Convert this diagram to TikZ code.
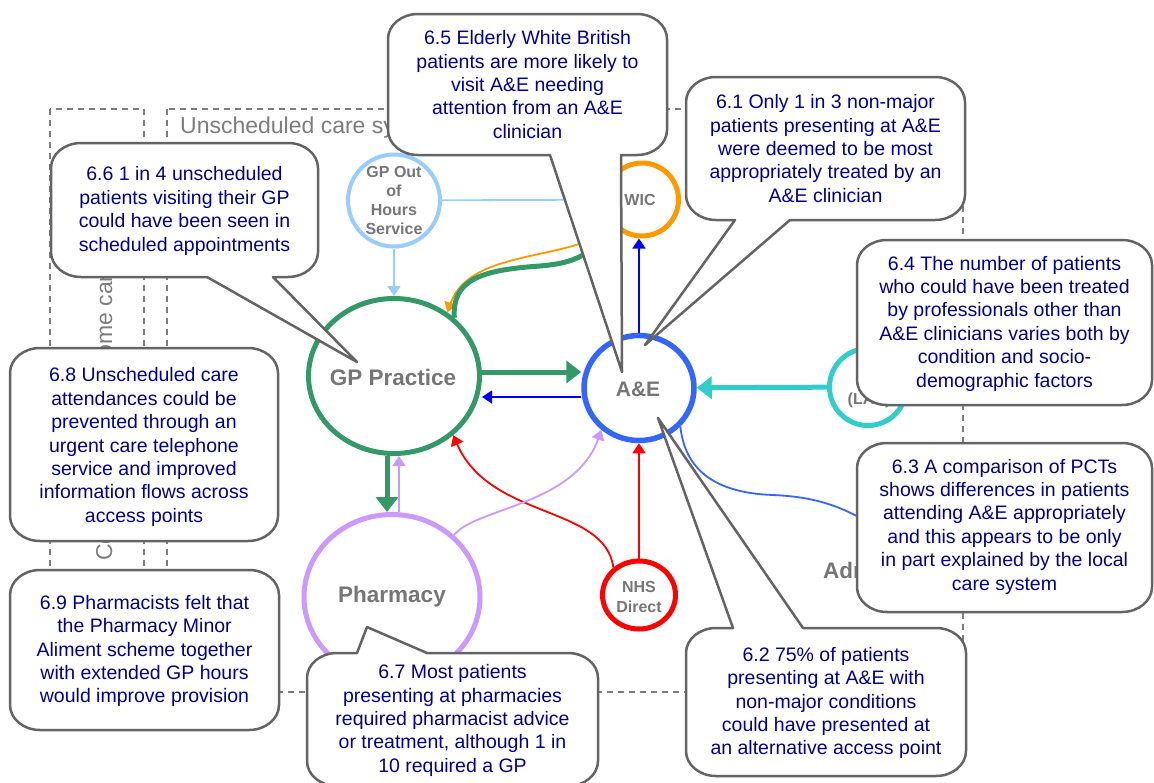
\documentclass[tikz,border=0pt]{standalone}
\usepackage{fontspec}
\setmainfont{Liberation Sans}
\usetikzlibrary{arrows.meta,shapes.geometric}

\definecolor{oohblue}{RGB}{153,204,255}
\definecolor{wicorange}{RGB}{255,153,0}
\definecolor{gpgreen}{RGB}{51,153,102}
\definecolor{aeblue}{RGB}{51,102,255}
\definecolor{pureblue}{RGB}{0,0,255}
\definecolor{nhsred}{RGB}{255,0,0}
\definecolor{phlilac}{RGB}{204,153,255}
\definecolor{lasteal}{RGB}{51,204,204}
\definecolor{labelgray}{RGB}{118,118,118}
\definecolor{framegray}{RGB}{125,125,125}
\definecolor{calloutgray}{RGB}{100,100,100}
\definecolor{notenavy}{RGB}{0,0,140}

\tikzset{
  hub/.style={ellipse, draw, line width=5pt, fill=white, inner sep=0pt},
  spoke/.style={circle, draw, line width=5pt, fill=white, inner sep=0pt},
  hubtext/.style={text=labelgray, inner sep=0pt, font=\bfseries\fontsize{22.5}{27}\selectfont},
  spoketext/.style={text=labelgray, inner sep=0pt, align=center, font=\bfseries\fontsize{16}{19.3}\selectfont},
  link/.style={line width=1.8pt},
  linkarrow/.style={line width=1.8pt, -{Triangle[length=10pt,width=13pt]}},
  boldlink/.style={line width=5pt},
  boldarrow/.style={line width=5pt, -{Triangle[length=15pt,width=22pt]}},
  bubble/.style={draw=calloutgray, line width=2.5pt, fill=white, line join=round},
  notetext/.style={text=notenavy, align=center, inner sep=0pt, font=\fontsize{19.5}{23.4}\selectfont},
  dashframe/.style={draw=framegray, line width=1.5pt, dash pattern=on 6pt off 5pt},
  frametext/.style={text=framegray, inner sep=0pt, font=\fontsize{23}{27}\selectfont},
}

% Rounded callout outline: #1 left, #2 top, #3 right, #4 bottom,
% #5 pointer points on the top edge (left to right),
% #6 pointer points on the bottom edge (right to left).
\newcommand{\bubbleshape}[6]{%
  \path[bubble] ({#1+30},#2) #5 -- ({#3-30},#2)
    .. controls ({#3-13.4},#2) and (#3,{#2+11.2}) .. (#3,{#2+25})
    -- (#3,{#4-25})
    .. controls (#3,{#4-11.2}) and ({#3-13.4},#4) .. ({#3-30},#4)
    #6 -- ({#1+30},#4)
    .. controls ({#1+13.4},#4) and (#1,{#4-11.2}) .. (#1,{#4-25})
    -- (#1,{#2+25})
    .. controls (#1,{#2+11.2}) and ({#1+13.4},#2) .. cycle;}

\begin{document}
\begin{tikzpicture}[x=1pt,y=-1pt]
\useasboundingbox (0,0) rectangle (1154,782);
\fill[white] (0,0) rectangle (1154,782);

% care setting frames
\draw[dashframe] (50,109) rectangle (144,692);
\draw[dashframe] (167,109) rectangle (963,692);
\node[frametext, anchor=base west] (unsched) at (180,133) {Unscheduled care system};
\node[frametext, rotate=90, anchor=base west] (homecare) at (112,561) {Community care / Home care};

% access points
\node[spoke, draw=oohblue, line width=4pt, minimum size=92pt] (ooh) at (394,200.5) {};
\node[spoke, draw=wicorange, minimum size=73pt] (wic) at (642,199.5) {};
\node[hub, draw=gpgreen, minimum width=171pt, minimum height=155pt] (gp) at (394,376) {};
\node[hub, draw=aeblue, line width=5.5pt, minimum width=110pt, minimum height=105pt] (ae) at (639,388) {};
\node[hub, draw=phlilac, minimum width=176pt, minimum height=165pt] (ph) at (392,597) {};
\node[hub, draw=nhsred, minimum width=73pt, minimum height=68pt] (nhs) at (639,595) {};
\node[spoke, draw=lasteal, minimum size=77pt] (las) at (868,387) {};
\coordinate (admin) at (900,545);

\node[spoketext] (ooh-t) at (ooh) {GP Out\\of\\Hours\\Service};
\node[spoketext] (wic-t) at (640,200) {WIC};
\node[hubtext] (gp-t) at (393,377) {GP Practice};
\node[hubtext, font=\bfseries\fontsize{21}{25}\selectfont] (ae-t) at (638,389) {A\&E};
\node[hubtext] (ph-t) at (392,597) {Pharmacy};
\node[spoketext] (nhs-t) at (639,597) {NHS\\Direct};
\node[spoketext] (las-t) at (869,400) {(LAS)};
\node[hubtext, anchor=base west] (adm) at (823,578) {Adm};

% patient flows
\draw[linkarrow, draw=oohblue] (ooh) -- (gp);
\draw[link, draw=oohblue] (ooh) -- (wic);
\draw[linkarrow, draw=wicorange] (wic.225) .. controls (570,262) and (470,248) .. (gp.50);
\draw[boldlink, draw=gpgreen] (gp.44) .. controls (452,280) and (480,270) .. (540,266)
  .. controls (575,263) and (595,255) .. (wic.215);
\draw[linkarrow, draw=pureblue] (ae.north) -- (ae.north |- wic.south);
\draw[boldarrow, draw=gpgreen] ([yshift=4pt]gp.east) -- ([yshift=16pt]ae.west);
\draw[linkarrow, draw=pureblue] ([yshift=-9pt]ae.west) -- ([yshift=-21pt]gp.east);
\draw[boldarrow, draw=gpgreen] ([xshift=-7pt]gp.south) -- ([xshift=-5pt]ph.north);
\draw[linkarrow, draw=phlilac] ([xshift=7pt]ph.north) -- ([xshift=5pt]gp.south);
\draw[linkarrow, draw=nhsred] (nhs.133) .. controls (605,505) and (490,520) .. (gp.315);
\draw[linkarrow, draw=nhsred] (nhs) -- (ae);
\draw[linkarrow, draw=phlilac] (ph.45) .. controls (475,508) and (575,505) .. (ae.228);
\draw[boldarrow, draw=lasteal] (las) -- (ae);
\draw[link, draw=aeblue] (ae.317) .. controls (685,470) and (715,493) .. (773,495)
  .. controls (815,497) and (850,505) .. (admin);

% findings
\bubbleshape{388}{14}{667}{155}{}{-- (621,155) -- (622,372) -- (550,155)}
\node[notetext] (n65) at (527.5,84.5) {6.5 Elderly White British\\patients are more likely to\\visit A\&E needing\\attention from an A\&E\\clinician};

\bubbleshape{686}{77}{965}{220}{}{-- (790,220) -- (645,345) -- (735,220)}
\node[notetext] (n61) at (825.5,148.5) {6.1 Only 1 in 3 non-major\\patients presenting at A\&E\\were deemed to be most\\appropriately treated by an\\A\&E clinician};

\bubbleshape{51}{143}{318}{277}{}{-- (273,277) -- (357,362) -- (207,277)}
\node[notetext] (n66) at (184.5,211) {6.6 1 in 4 unscheduled\\patients visiting their GP\\could have been seen in\\scheduled appointments};

\bubbleshape{857}{240}{1152}{405}{}{}
\node[notetext] (n64) at (1004.5,323.5) {6.4 The number of patients\\who could have been treated\\by professionals other than\\A\&E clinicians varies both by\\condition and socio-\\demographic factors};

\bubbleshape{10}{348}{278}{541}{}{}
\node[notetext] (n68) at (144,447) {6.8 Unscheduled care\\attendances could be\\prevented through an\\urgent care telephone\\service and improved\\information flows across\\access points};

\bubbleshape{857}{443}{1152}{612}{}{}
\node[notetext] (n63) at (1004.5,526.5) {6.3 A comparison of PCTs\\shows differences in patients\\attending A\&E appropriately\\and this appears to be only\\in part explained by the local\\care system};

\bubbleshape{10}{570}{279}{730}{}{}
\node[notetext] (n69) at (144.5,651) {6.9 Pharmacists felt that\\the Pharmacy Minor\\Aliment scheme together\\with extended GP hours\\would improve provision};

\bubbleshape{307}{653}{598}{786}{-- (357,653) -- (367,627) -- (427,653)}{}
\node[notetext] (n67) at (452.5,720.5) {6.7 Most patients\\presenting at pharmacies\\required pharmacist advice\\or treatment, although 1 in\\10 required a GP};

\bubbleshape{686}{628}{966}{776}{-- (733,628) -- (658,418) -- (803,628)}{}
\node[notetext] (n62) at (826,703) {6.2 75\% of patients\\presenting at A\&E with\\non-major conditions\\could have presented at\\an alternative access point};
\end{tikzpicture}
\end{document}
